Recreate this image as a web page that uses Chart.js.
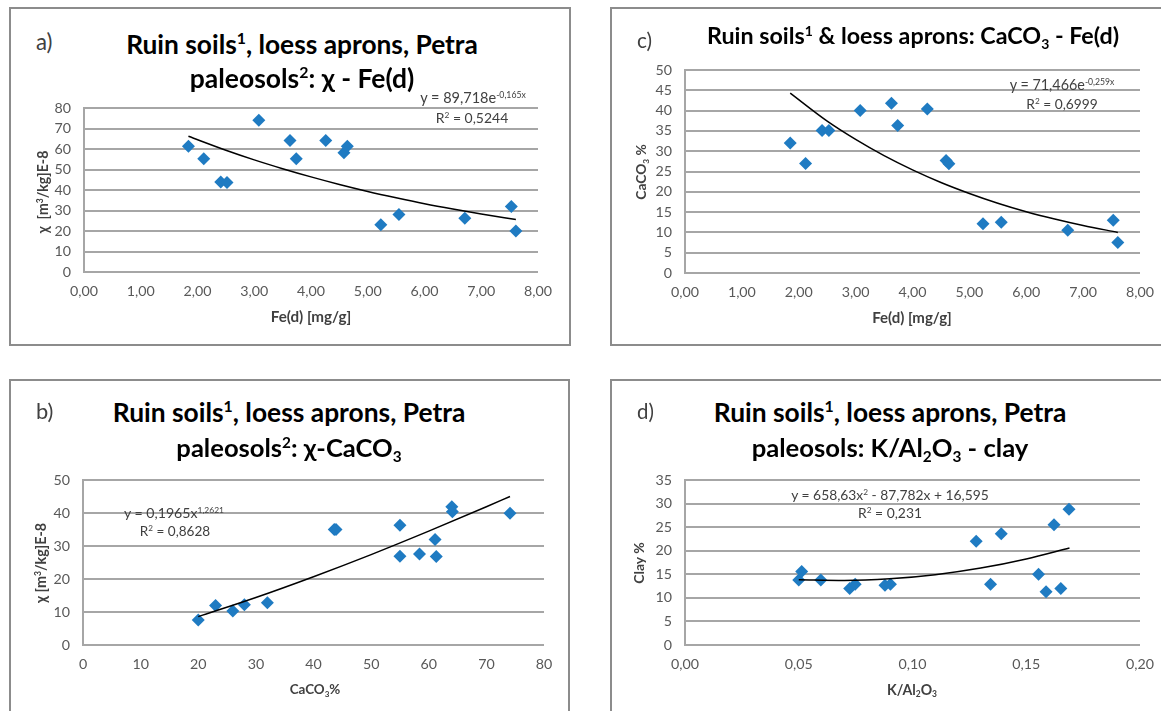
<!DOCTYPE html>
<html>
<head>
<meta charset="utf-8">
<script src="https://cdn.jsdelivr.net/npm/chart.js@4.4.1/dist/chart.umd.min.js"></script>
<style>
  html, body { margin:0; padding:0; background:#fff; }
  body { width:1161px; height:711px; position:relative; overflow:hidden; font-family: Lato, "Open Sans", sans-serif; }
  .panel { position:absolute; border:2px solid #8c8c8c; box-sizing:border-box; background:#fff; }
  canvas { position:absolute; }
  .txt { position:absolute; white-space:nowrap; line-height:1; }
  .title { font-weight:bold; font-size:24px; color:#000; transform:translate(-50%,-50%); }
  .lbl { font-size:18px; color:#404040; transform:translate(0,-50%); }
  .eq { font-size:13px; color:#404040; transform:translate(-50%,-50%); }
  .axt { font-weight:bold; font-size:15px; color:#404040; transform:translate(-50%,-50%); }
  .axt.rot { transform:translate(-50%,-50%) rotate(-90deg); }
  sup.s { font-size:0.6em; vertical-align:0.6em; line-height:0; }
  sub.s { font-size:0.6em; vertical-align:-0.3em; line-height:0; }
</style>
</head>
<body>
<div class="panel" style="left:9px;top:7px;width:562px;height:339px;"></div>
<div class="panel" style="left:9px;top:379px;width:561px;height:400px;"></div>
<div class="panel" style="left:610px;top:7px;width:600px;height:339px;"></div>
<div class="panel" style="left:610px;top:379px;width:600px;height:400px;"></div>

<canvas id="cA"></canvas>
<canvas id="cB"></canvas>
<canvas id="cC"></canvas>
<canvas id="cD"></canvas>

<!-- Panel a texts -->
<div class="txt lbl" data-w="16" style="left:36px;top:42px;">a)</div>
<div class="txt title" data-w="352" style="left:302px;top:44px;">Ruin soils<sup class="s">1</sup>, loess aprons, Petra</div>
<div class="txt title" data-w="225" style="left:302px;top:78px;">paleosols<sup class="s">2</sup>: χ - Fe(d)</div>
<div class="txt eq" data-w="106" style="left:473px;top:98px;">y = 89,718e<sup class="s">-0,165x</sup></div>
<div class="txt eq" data-w="73" style="left:472px;top:118px;">R<sup class="s">2</sup> = 0,5244</div>
<div class="txt axt rot" data-w="83" style="left:43px;top:192px;">χ &nbsp;[m<sup class="s">3</sup>/kg]E-8</div>
<div class="txt axt" data-w="81" style="left:311px;top:317px;">Fe(d) [mg/g]</div>

<!-- Panel b texts -->
<div class="txt lbl" data-w="17" style="left:36px;top:411px;">b)</div>
<div class="txt title" data-w="353" style="left:289px;top:412px;">Ruin soils<sup class="s">1</sup>, loess aprons, Petra</div>
<div class="txt title" data-w="225" style="left:289px;top:448px;">paleosols<sup class="s">2</sup>: χ-CaCO<sub class="s">3</sub></div>
<div class="txt eq" data-w="100" style="left:174px;top:513px;">y = 0,1965x<sup class="s">1,2621</sup></div>
<div class="txt eq" data-w="71" style="left:175px;top:532px;">R<sup class="s">2</sup> = 0,8628</div>
<div class="txt axt rot" data-w="80" style="left:41px;top:563px;">χ [m<sup class="s">3</sup>/kg]E-8</div>
<div class="txt axt" data-w="51" style="left:315px;top:690px;">CaCO<sub class="s">3</sub>%</div>

<!-- Panel c texts -->
<div class="txt lbl" data-w="15" style="left:637px;top:40px;">c)</div>
<div class="txt title" data-w="412" style="left:913px;top:36px;">Ruin soils<sup class="s">1</sup> &amp; loess aprons: CaCO<sub class="s">3</sub> - Fe(d)</div>
<div class="txt eq" data-w="105" style="left:1062px;top:85px;">y = 71,466e<sup class="s">-0,259x</sup></div>
<div class="txt eq" data-w="72" style="left:1062px;top:104px;">R<sup class="s">2</sup> = 0,6999</div>
<div class="txt axt rot" data-w="55" style="left:641px;top:172px;">CaCO<sub class="s">3</sub> %</div>
<div class="txt axt" data-w="80" style="left:912px;top:317px;">Fe(d) [mg/g]</div>

<!-- Panel d texts -->
<div class="txt lbl" data-w="17" style="left:637px;top:411px;">d)</div>
<div class="txt title" data-w="353" style="left:890px;top:412px;">Ruin soils<sup class="s">1</sup>, loess aprons, Petra</div>
<div class="txt title" data-w="277" style="left:890px;top:448px;">paleosols: K/Al<sub class="s">2</sub>O<sub class="s">3</sub> - clay</div>
<div class="txt eq" data-w="198" style="left:890px;top:495px;">y = 658,63x<sup class="s">2</sup> - 87,782x + 16,595</div>
<div class="txt eq" data-w="64" style="left:890px;top:513px;">R<sup class="s">2</sup> = 0,231</div>
<div class="txt axt rot" data-w="42" style="left:639px;top:563px;">Clay %</div>
<div class="txt axt" data-w="50" style="left:912px;top:690px;">K/Al<sub class="s">2</sub>O<sub class="s">3</sub></div>

<script>
// ---------- DATA ----------
// Panel a: Fe(d) [mg/g] vs χ
const feA = [1.84, 2.11, 2.41, 2.52, 3.08, 3.63, 3.74, 4.26, 4.58, 4.64, 5.23, 5.55, 6.71, 7.53, 7.61];
const chiA = [61.4, 55.3, 43.9, 43.6, 74.0, 64.1, 55.3, 64.1, 58.2, 61.4, 23.1, 28.1, 26.2, 32.0, 20.0];
const trendAx = [1.84, 2.5, 3.0, 3.5, 4.0, 4.5, 5.0, 5.5, 6.0, 6.5, 7.0, 7.61];
const trendAy = [66.2, 59.4, 54.7, 50.4, 46.4, 42.7, 39.3, 36.2, 33.3, 30.7, 28.3, 25.6];

// Panel b: CaCO3 % (x) vs χ axis (y)
const caB = [20.0, 23.0, 26.0, 28.0, 32.0, 43.6, 43.9, 55.0, 55.0, 58.4, 61.1, 61.3, 64.0, 64.1, 74.1];
const chiB = [7.6, 12.0, 10.3, 12.2, 12.8, 35.0, 35.0, 36.3, 26.9, 27.6, 32.0, 26.8, 41.9, 40.4, 39.9];
const trendBx = [20, 30, 40, 50, 60, 70, 74.1];
const trendBy = [8.6, 14.4, 20.7, 27.4, 34.5, 41.9, 45.0];

// Panel c: Fe(d) [mg/g] vs CaCO3 %
const feC = [1.85, 2.12, 2.41, 2.53, 3.08, 3.63, 3.74, 4.26, 4.59, 4.64, 5.24, 5.56, 6.73, 7.53, 7.61];
const caC = [32.0, 27.0, 35.1, 35.1, 40.0, 41.8, 36.3, 40.4, 27.7, 26.9, 12.1, 12.5, 10.5, 13.0, 7.5];
const trendCx = [1.85, 2.5, 3.0, 3.5, 4.0, 4.5, 5.0, 5.5, 6.0, 6.5, 7.0, 7.61];
const trendCy = [44.3, 37.4, 32.9, 28.9, 25.4, 22.3, 19.6, 17.2, 15.1, 13.3, 11.7, 10.0];

// Panel d: K/Al2O3 vs Clay %
const kD = [0.050, 0.0513, 0.0597, 0.0724, 0.0748, 0.0879, 0.0903, 0.128, 0.1343, 0.139, 0.1554, 0.1587, 0.1622, 0.1652, 0.1688];
const clayD = [13.8, 15.6, 13.8, 12.0, 12.9, 12.7, 12.9, 22.0, 12.9, 23.6, 15.0, 11.3, 25.5, 12.0, 28.8];
const trendDx = [0.05, 0.07, 0.09, 0.11, 0.13, 0.15, 0.169];
const trendDy = [13.85, 13.68, 14.03, 14.91, 16.31, 18.25, 20.57];

// Tick labels
const feTicks = ['0,00', '1,00', '2,00', '3,00', '4,00', '5,00', '6,00', '7,00', '8,00'];
const caTicks = ['0', '10', '20', '30', '40', '50', '60', '70', '80'];
const kTicks = ['0,00', '0,05', '0,10', '0,15', '0,20'];

// ---------- RENDER ----------
const MARK = '#1f7bc2';
const GRID = '#a6a6a6';
const TICKC = '#595959';
const FONT = 'Lato';
const YW = 80, XH = 45, PT = 20, PR = 40;
let TICKSIZE = 15;

function pts(xs, ys) { return xs.map((x, i) => ({ x: x, y: ys[i] })); }

function makeChart(id, plot, xs, ys, tx, ty, xcfg, ycfg) {
  const cv = document.getElementById(id);
  const W = (plot.R - plot.L) + YW + PR;
  const H = (plot.B - plot.T) + PT + XH;
  cv.width = W; cv.height = H;
  cv.style.left = (plot.L - YW) + 'px';
  cv.style.top = (plot.T - PT) + 'px';
  cv.style.width = W + 'px'; cv.style.height = H + 'px';
  return new Chart(cv, {
    type: 'scatter',
    data: {
      datasets: [
        { data: pts(xs, ys), pointStyle: 'rectRot', pointRadius: 6.5, pointHoverRadius: 6.5,
          backgroundColor: MARK, borderColor: MARK, borderWidth: 0, order: 2 },
        { data: pts(tx, ty), showLine: true, pointRadius: 0, borderColor: '#000', borderWidth: 1.5,
          cubicInterpolationMode: 'monotone', fill: false, order: 1 }
      ]
    },
    options: {
      responsive: false, animation: false, devicePixelRatio: 1,
      layout: { padding: { left: 0, top: PT, right: PR, bottom: 0 } },
      plugins: { legend: { display: false }, tooltip: { enabled: false }, title: { display: false } },
      scales: {
        x: {
          type: 'linear', min: xcfg.min, max: xcfg.max,
          grid: { display: false, drawTicks: false },
          border: { display: false },
          ticks: { stepSize: xcfg.step, padding: 11, color: TICKC, font: { family: FONT, size: TICKSIZE },
            maxRotation: 0, autoSkip: false,
            callback: (v, i) => xcfg.labels[i] },
          afterFit: s => { s.height = XH; s.paddingLeft = 0; s.paddingRight = 0; }
        },
        y: {
          type: 'linear', min: ycfg.min, max: ycfg.max,
          grid: { color: GRID, lineWidth: 2, drawTicks: false },
          border: { display: true, color: GRID, width: 2 },
          ticks: { stepSize: ycfg.step, padding: 13, color: TICKC, font: { family: FONT, size: TICKSIZE } },
          afterFit: s => { s.width = YW; s.paddingTop = 0; s.paddingBottom = 0; }
        }
      }
    }
  });
}

function fitTexts() {
  document.querySelectorAll('.txt[data-w]').forEach(el => {
    const target = parseFloat(el.dataset.w);
    const fs = parseFloat(getComputedStyle(el).fontSize);
    const w = el.offsetWidth;
    if (w > 0) el.style.fontSize = (fs * target / w).toFixed(2) + 'px';
  });
  // tick label size: reference "8,00" is about 28px wide
  const ctx = document.createElement('canvas').getContext('2d');
  ctx.font = '20px ' + FONT;
  const w = ctx.measureText('8,00').width;
  if (w > 0) TICKSIZE = Math.min(17, Math.max(12, 20 * 28 / w));
}

function drawAll() {
  fitTexts();
  makeChart('cA', { L: 84, T: 108, R: 538, B: 272 }, feA, chiA, trendAx, trendAy,
    { min: 0, max: 8, step: 1, labels: feTicks }, { min: 0, max: 80, step: 10 });
  makeChart('cB', { L: 83, T: 480, R: 544, B: 645 }, caB, chiB, trendBx, trendBy,
    { min: 0, max: 80, step: 10, labels: caTicks }, { min: 0, max: 50, step: 10 });
  makeChart('cC', { L: 685, T: 70, R: 1140, B: 273 }, feC, caC, trendCx, trendCy,
    { min: 0, max: 8, step: 1, labels: feTicks }, { min: 0, max: 50, step: 5 });
  makeChart('cD', { L: 685, T: 480, R: 1140, B: 645 }, kD, clayD, trendDx, trendDy,
    { min: 0, max: 0.2, step: 0.05, labels: kTicks }, { min: 0, max: 35, step: 5 });
}
if (document.fonts && document.fonts.load) {
  Promise.all([document.fonts.load('13px Lato'), document.fonts.load('bold 21px Lato')]).then(drawAll, drawAll);
} else { drawAll(); }
</script>
</body>
</html>
